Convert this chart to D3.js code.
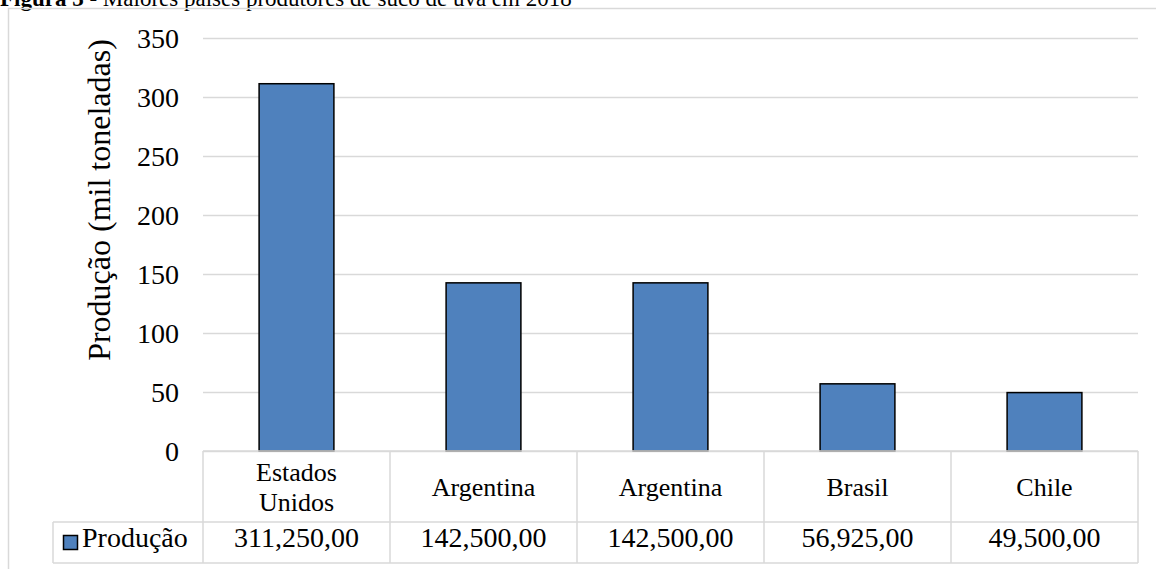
<!DOCTYPE html>
<html>
<head>
<meta charset="utf-8">
<script src="https://cdn.jsdelivr.net/npm/d3@7"></script>
<style>
  body { margin: 0; background: #fff; }
  svg text { font-family: "Liberation Serif", "Times New Roman", serif; fill: #000; }
</style>
</head>
<body>
<svg id="chart" width="1156" height="569"></svg>
<script>
const categories = [["Estados", "Unidos"], ["Argentina"], ["Argentina"], ["Brasil"], ["Chile"]];
const values = [311.25, 142.5, 142.5, 56.925, 49.5];
const valueLabels = ["311,250,00", "142,500,00", "142,500,00", "56,925,00", "49,500,00"];
const yTicks = [0, 50, 100, 150, 200, 250, 300, 350];
const seriesName = "Produção";

const svg = d3.select("#chart");
const gridColor = "#d9d9d9";

// title, clipped at the top like the source
svg.append("text")
    .attr("x", 0)
    .attr("y", 6)
    .attr("font-size", 23)
    .html('<tspan font-weight="bold">Figura 3</tspan> - Maiores países produtores de suco de uva em 2018');

// outer frame (runs off right and bottom)
svg.append("rect")
    .attr("x", 8.5).attr("y", 8.5)
    .attr("width", 1160).attr("height", 580)
    .attr("fill", "none")
    .attr("stroke", gridColor)
    .attr("stroke-width", 1.5);

const margin = { left: 203, top: 38 };
const plotBottom = 451;
const plotRight = 1138;

const xScale = d3.scaleBand()
    .domain(d3.range(values.length))
    .range([margin.left, plotRight])
    .paddingInner(0.6)
    .paddingOuter(0.3);
const colScale = d3.scaleBand()
    .domain(d3.range(values.length))
    .range([margin.left, plotRight]);
const yScale = d3.scaleLinear()
    .domain([0, 350])
    .range([plotBottom, margin.top]);

// gridlines + tick labels
const yAxis = d3.axisLeft(yScale)
    .tickValues(yTicks)
    .tickSize(-(plotRight - margin.left))
    .tickPadding(24);
const yAxisG = svg.append("g")
    .attr("transform", `translate(${margin.left},0)`)
    .call(yAxis);
yAxisG.select(".domain").remove();
yAxisG.selectAll("line").attr("stroke", gridColor).attr("stroke-width", 1.5);
yAxisG.selectAll("text").attr("font-size", 28).attr("font-family", "Liberation Serif, serif").attr("dy", "0.35em");

svg.append("text")
    .attr("transform", `translate(110,200) rotate(-90)`)
    .attr("text-anchor", "middle")
    .attr("font-size", 32)
    .text("Produção (mil toneladas)");

// bars
svg.selectAll(".bar")
    .data(values)
    .join("rect")
    .attr("class", "bar")
    .attr("x", (d, i) => xScale(i))
    .attr("y", d => yScale(d))
    .attr("width", xScale.bandwidth())
    .attr("height", d => plotBottom - yScale(d))
    .attr("fill", "#4f81bd")
    .attr("stroke", "#000")
    .attr("stroke-width", 1.5);

// data table
const rowTop = plotBottom, rowMid = 522, rowBottom = 563, tableLeft = 53;
const table = svg.append("g")
    .attr("stroke", gridColor)
    .attr("stroke-width", 1.5);
table.append("line").attr("x1", margin.left).attr("x2", plotRight).attr("y1", rowTop).attr("y2", rowTop);
table.append("line").attr("x1", tableLeft).attr("x2", plotRight).attr("y1", rowMid).attr("y2", rowMid);
table.append("line").attr("x1", tableLeft).attr("x2", plotRight).attr("y1", rowBottom).attr("y2", rowBottom);
table.append("line").attr("x1", tableLeft).attr("x2", tableLeft).attr("y1", rowMid).attr("y2", rowBottom);
d3.range(values.length + 1).forEach(i => {
    const x = i < values.length ? colScale(i) : plotRight;
    table.append("line").attr("x1", x).attr("x2", x).attr("y1", rowTop).attr("y2", rowBottom);
});

categories.forEach((lines, i) => {
    const cx = colScale(i) + colScale.bandwidth() / 2;
    const cy = (rowTop + rowMid) / 2;
    const t = svg.append("text")
        .attr("text-anchor", "middle")
        .attr("font-size", 26);
    lines.forEach((line, j) => {
        t.append("tspan")
            .attr("x", cx)
            .attr("y", cy + (j - (lines.length - 1) / 2) * 30)
            .attr("dy", "0.35em")
            .text(line);
    });
});

svg.selectAll(".val")
    .data(valueLabels)
    .join("text")
    .attr("class", "val")
    .attr("x", (d, i) => colScale(i) + colScale.bandwidth() / 2)
    .attr("y", 547)
    .attr("text-anchor", "middle")
    .attr("font-size", 28)
    .text(d => d);

// legend key in table
svg.append("rect")
    .attr("x", 63.5).attr("y", 535.5)
    .attr("width", 14).attr("height", 14)
    .attr("fill", "#4f81bd")
    .attr("stroke", "#000")
    .attr("stroke-width", 1.5);
svg.append("text")
    .attr("x", 82)
    .attr("y", 547)
    .attr("font-size", 28)
    .text(seriesName);
</script>
</body>
</html>
